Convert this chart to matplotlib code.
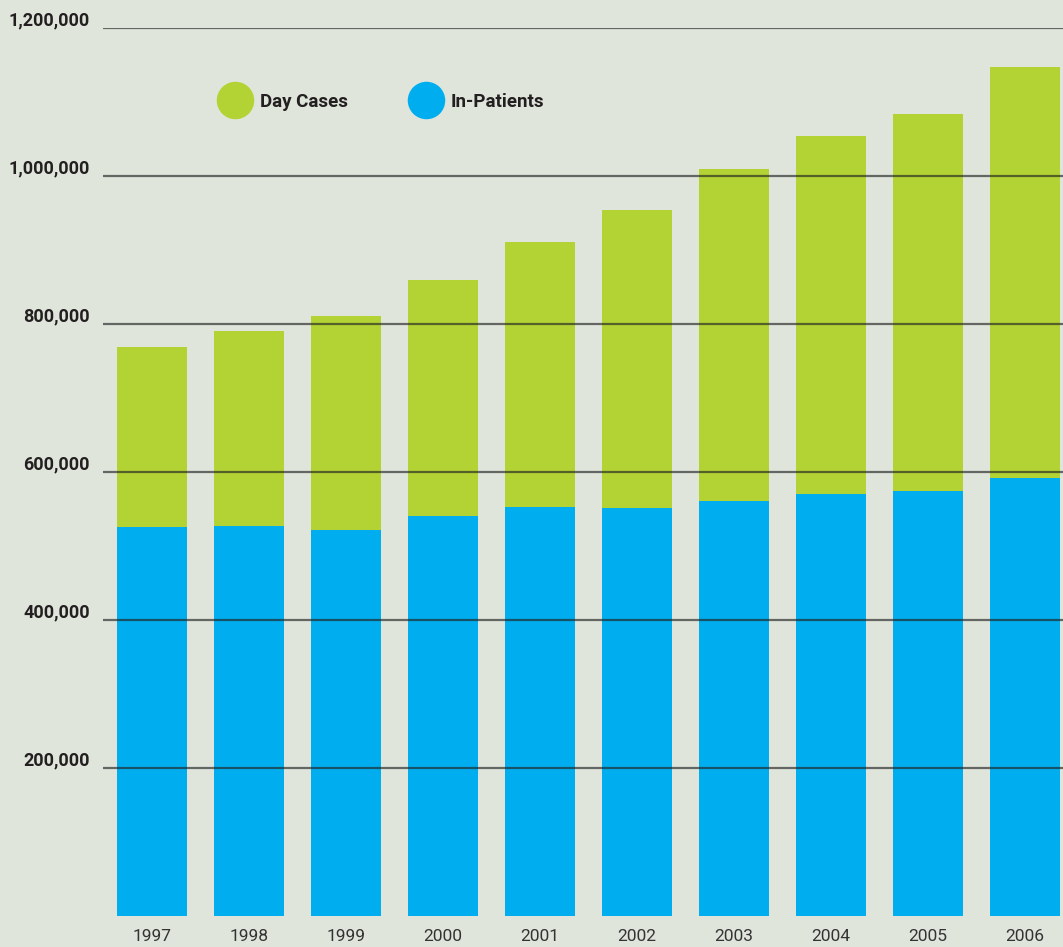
import matplotlib
matplotlib.use("Agg")
import matplotlib.pyplot as plt
import matplotlib.transforms as mtransforms
from matplotlib.lines import Line2D

years = ["1997", "1998", "1999", "2000", "2001", "2002", "2003", "2004", "2005", "2006"]
in_patients = [525700, 527000, 521600, 540500, 552700, 551400, 560800, 570300, 574300, 591900]
totals = [768900, 790500, 810800, 859500, 910800, 954100, 1009500, 1054100, 1083800, 1147300]
day_cases = [t - i for t, i in zip(totals, in_patients)]
yticks = [200000, 400000, 600000, 800000, 1000000, 1200000]
ytick_labels = ["200,000", "400,000", "600,000", "800,000", "1,000,000", "1,200,000"]

bg = "#E0E5DC"
green = "#B3D335"
blue = "#00AEEF"
ink = "#231F20"

plt.rcParams["font.family"] = ["Roboto", "DejaVu Sans"]

fig = plt.figure(figsize=(10.63, 9.47), dpi=100, facecolor=bg)
ax = fig.add_axes([103 / 1063, 31 / 947, 960 / 1063, 888 / 947])
ax.set_facecolor(bg)

x = list(range(len(years)))
ax.bar(x, in_patients, width=0.722, color=blue, zorder=2)
ax.bar(x, day_cases, width=0.722, bottom=in_patients, color=green, zorder=2)

# horizontal rules sit on top of the bars
for v in yticks:
    ax.axhline(v, color="#222222", alpha=0.65, lw=1.6, zorder=3)

ax.set_xlim(-0.505, 9.392)
ax.set_ylim(0, 1200000)
for s in ax.spines.values():
    s.set_visible(False)
ax.set_yticks([])
ax.set_xticks(x)
ax.set_xticklabels(years, fontsize=12.5, color="#333333")
ax.tick_params(axis="x", length=0, pad=9)

# y labels drawn just above each rule, right-aligned left of the axes
trans = mtransforms.blended_transform_factory(fig.transFigure, ax.transData)
for v, lab in zip(yticks, ytick_labels):
    t = ax.text(90 / 1063, v, lab, transform=trans, ha="right", va="baseline",
                fontsize=13, fontweight="bold", color=ink)
    t.set_transform(trans + mtransforms.ScaledTranslation(0, 1.5 / 72, fig.dpi_scale_trans))

handles = [
    Line2D([], [], marker="o", ls="", markersize=27, markerfacecolor=green, markeredgecolor="none"),
    Line2D([], [], marker="o", ls="", markersize=27, markerfacecolor=blue, markeredgecolor="none"),
]
leg = fig.legend(handles, ["Day Cases", "In-Patients"], loc="center left",
                 bbox_to_anchor=(203 / 1063, (947 - 102) / 947), ncol=2, frameon=False,
                 handlelength=1.6, handletextpad=0.55, columnspacing=3.33,
                 prop={"size": 13.5, "weight": "bold"})
for t in leg.get_texts():
    t.set_color(ink)

fig.savefig("out.png", dpi=100, facecolor=bg)
